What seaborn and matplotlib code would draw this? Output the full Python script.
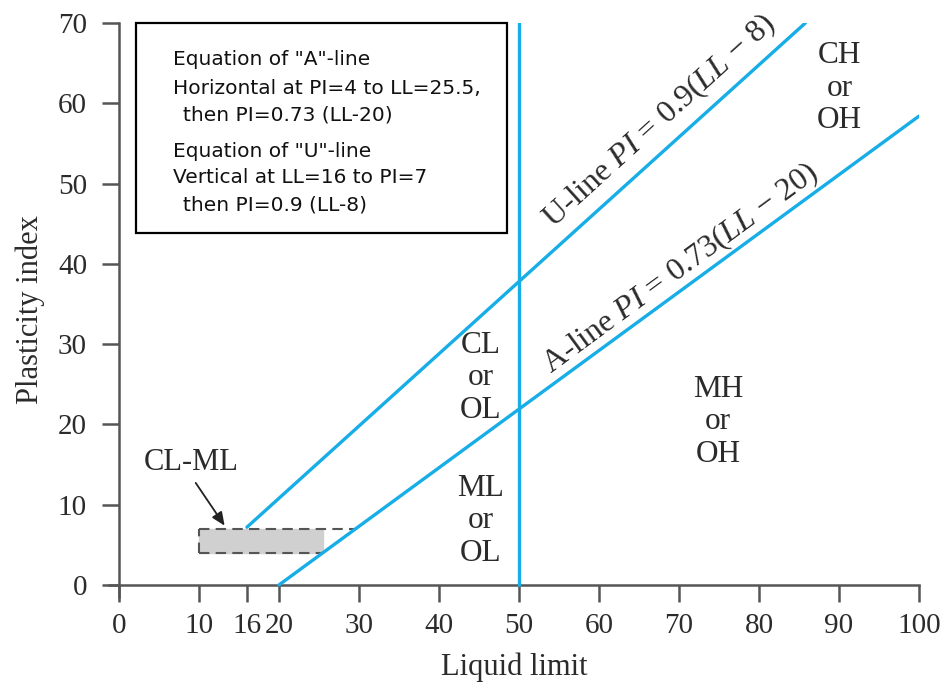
import numpy as np
import pandas as pd
import seaborn as sns
import matplotlib
matplotlib.use("Agg")
import matplotlib.pyplot as plt
from matplotlib.patches import Rectangle

# Plasticity chart lines (liquid limit LL vs plasticity index PI)
a_line_ll = [20, 100]
a_line_pi = [0.0, 58.4]
u_line_ll = [16, 85.8]
u_line_pi = [7.2, 70.0]
ll_50_ll = [50, 50]
ll_50_pi = [0, 70]

# CL-ML zone
clml_ll = [10, 25.5]
clml_pi = [4, 7]
clml_top_end = 29.6

xticks = [0, 10, 16, 20, 30, 40, 50, 60, 70, 80, 90, 100]
yticks = [0, 10, 20, 30, 40, 50, 60, 70]

zone_labels = ["CL\nor\nOL", "ML\nor\nOL", "MH\nor\nOH", "CH\nor\nOH"]
zone_ll = [45.2, 45.2, 74.9, 90.1]
zone_pi = [25.8, 8.0, 20.3, 61.9]

equation_lines = [
    'Equation of "A"-line',
    'Horizontal at PI=4 to LL=25.5,',
    ' then PI=0.73 (LL-20)',
    'Equation of "U"-line',
    'Vertical at LL=16 to PI=7',
    ' then PI=0.9 (LL-8)',
]

sns.set_style("ticks")
plt.rcParams["font.family"] = ["Liberation Serif", "DejaVu Serif"]
plt.rcParams["mathtext.fontset"] = "custom"
plt.rcParams["mathtext.it"] = "Liberation Serif:italic"
plt.rcParams["mathtext.rm"] = "Liberation Serif"

blue = "#17ade6"
axis_col = "#555555"
text_col = "#2b2b2b"

fig = plt.figure(figsize=(9.46, 6.95), dpi=100)
ax = fig.add_axes([0.1156, 0.141, 0.8558, 0.8259])

lines = pd.concat([
    pd.DataFrame({"LL": a_line_ll, "PI": a_line_pi, "line": "A"}),
    pd.DataFrame({"LL": u_line_ll, "PI": u_line_pi, "line": "U"}),
    pd.DataFrame({"LL": ll_50_ll, "PI": ll_50_pi, "line": "V"}),
])
sns.lineplot(data=lines, x="LL", y="PI", units="line", estimator=None,
             color=blue, lw=2.4, sort=False, ax=ax, zorder=3)

# CL-ML shaded band with dashed outline
ax.fill_between(clml_ll, clml_pi[0], clml_pi[1], color="#d0d0d0", zorder=1)
dash = dict(color="#555555", lw=1.5, ls=(0, (5, 3)), zorder=2)
ax.plot([clml_ll[0], clml_top_end], [clml_pi[1], clml_pi[1]], **dash)
ax.plot([clml_ll[0], clml_ll[1]], [clml_pi[0], clml_pi[0]], **dash)
ax.plot([clml_ll[0], clml_ll[0]], [clml_pi[0], clml_pi[1]], **dash)

ax.text(9.0, 15.3, "CL-ML", ha="center", va="center", fontsize=22, color=text_col)
ax.annotate("", xy=(13.4, 7.1), xytext=(9.4, 13.0),
            arrowprops=dict(arrowstyle="-|>,head_length=0.8,head_width=0.35",
                            color="#222222", lw=1.3))

for lab, x, y in zip(zone_labels, zone_ll, zone_pi):
    ax.text(x, y, lab, ha="center", va="center", fontsize=22.5,
            color=text_col, linespacing=1.15)

ax.text(67.6, 57.8, r"U-line $PI$ = 0.9($LL$ $-$ 8)", rotation=42.2,
        rotation_mode="anchor", ha="center", va="center", fontsize=23, color=text_col)
ax.text(70.2, 39.4, r"A-line $PI$ = 0.73($LL$ $-$ 20)", rotation=36.3,
        rotation_mode="anchor", ha="center", va="center", fontsize=23, color=text_col)

# Equation box
ax.add_patch(Rectangle((2.1, 43.8), 46.4, 26.2, fill=False, ec="black", lw=1.6,
                       zorder=4, clip_on=False))
eq_y = [65.4, 61.9, 58.5, 54.0, 50.7, 47.3]
eq_x = [6.75, 6.75, 8.0, 6.75, 6.75, 8.0]
for s, x, y in zip(equation_lines, eq_x, eq_y):
    ax.text(x, y, s.strip(), ha="left", va="center", fontsize=14.5, color="#111111",
            family=["DejaVu Sans"])

ax.set_xlim(-1.2, 100)
ax.set_ylim(-1.5, 70)
ax.set_xticks(xticks)
ax.set_yticks(yticks)
ax.spines["left"].set_position(("data", 0))
ax.spines["bottom"].set_position(("data", 0))
for side in ["top", "right"]:
    ax.spines[side].set_visible(False)
for side in ["left", "bottom"]:
    ax.spines[side].set_color(axis_col)
    ax.spines[side].set_linewidth(1.8)
ax.tick_params(axis="both", direction="out", length=12, width=1.8,
               color=axis_col, labelsize=21, labelcolor=text_col)
ax.tick_params(axis="x", pad=8)
ax.tick_params(axis="y", pad=11)
ax.set_xlabel("Liquid limit", fontsize=22, color=text_col, labelpad=10)
ax.set_ylabel("Plasticity index", fontsize=22, color=text_col, labelpad=9)

fig.savefig("out.png", dpi=100)
